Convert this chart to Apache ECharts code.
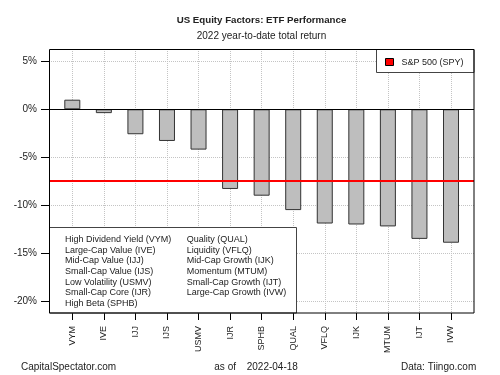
<!DOCTYPE html>
<html>
<head>
<meta charset="utf-8">
<script src="https://cdn.jsdelivr.net/npm/echarts@6/dist/echarts.min.js"></script>
<style>
  html, body { margin: 0; padding: 0; background: #fff; }
  #chart { width: 500px; height: 375px; }
</style>
</head>
<body>
<div id="chart"></div>
<script>
// tickers on the x axis, read left to right
var tickers = ['VYM', 'IVE', 'IJJ', 'IJS', 'USMV', 'IJR', 'SPHB', 'QUAL', 'VFLQ', 'IJK', 'MTUM', 'IJT', 'IVW']
// 2022 ytd total return, %
var returns = [1.0, -0.4, -2.6, -3.3, -4.2, -8.3, -9.0, -10.5, -11.9, -12.0, -12.2, -13.5, -13.9]
var spyReturn = -7.44
var spyName = 'S&P 500 (SPY)'
var yTicks = [-20, -15, -10, -5, 0, 5]

var legendLeft = ['High Dividend Yield (VYM)', 'Large-Cap Value (IVE)', 'Mid-Cap Value (IJJ)', 'Small-Cap Value (IJS)', 'Low Volatility (USMV)', 'Small-Cap Core (IJR)', 'High Beta (SPHB)']
var legendRight = ['Quality (QUAL)', 'Liquidity (VFLQ)', 'Mid-Cap Growth (IJK)', 'Momentum (MTUM)', 'Small-Cap Growth (IJT)', 'Large-Cap Growth (IVW)']

var font = 'Liberation Sans, Arial, sans-serif'
var gridColor = '#c4c4c4'

var chart = echarts.init(document.getElementById('chart'), null, { renderer: 'canvas' })

var graphics = []
// plot frame
graphics.push({
  type: 'rect', z: 50, silent: true,
  shape: { x: 49.5, y: 49.5, width: 424.5, height: 263.5 },
  style: { fill: 'none', stroke: '#000', lineWidth: 1 }
})
// factor legend box, bottom-left
graphics.push({
  type: 'rect', z: 40, silent: true,
  shape: { x: 49.5, y: 227.5, width: 247, height: 85.5 },
  style: { fill: '#fff', stroke: '#444', lineWidth: 1 }
})
legendLeft.forEach(function (t, i) {
  graphics.push({ type: 'text', z: 41, silent: true, x: 65, y: 239.5 + i * 10.7,
    style: { text: t, font: '9px ' + font, fill: '#222', textVerticalAlign: 'middle' } })
})
legendRight.forEach(function (t, i) {
  graphics.push({ type: 'text', z: 41, silent: true, x: 186.7, y: 239.5 + i * 10.7,
    style: { text: t, font: '9px ' + font, fill: '#222', textVerticalAlign: 'middle' } })
})
// spy legend box, top-right
graphics.push({
  type: 'rect', z: 40, silent: true,
  shape: { x: 376.5, y: 49.5, width: 97.5, height: 23 },
  style: { fill: '#fff', stroke: '#444', lineWidth: 1 }
})
graphics.push({
  type: 'rect', z: 41, silent: true,
  shape: { x: 385.5, y: 58.5, width: 8, height: 7 },
  style: { fill: '#ff0000', stroke: '#000', lineWidth: 1 }
})
graphics.push({ type: 'text', z: 41, silent: true, x: 401.5, y: 62.5,
  style: { text: spyName, font: '9px ' + font, fill: '#222', textVerticalAlign: 'middle' } })
// footer
graphics.push({ type: 'text', silent: true, x: 21, y: 367,
  style: { text: 'CapitalSpectator.com', font: '10px ' + font, fill: '#222', textVerticalAlign: 'middle' } })
graphics.push({ type: 'text', silent: true, x: 214.3, y: 367,
  style: { text: 'as of', font: '10px ' + font, fill: '#222', textVerticalAlign: 'middle' } })
graphics.push({ type: 'text', silent: true, x: 246.7, y: 367,
  style: { text: '2022-04-18', font: '10px ' + font, fill: '#222', textVerticalAlign: 'middle' } })
graphics.push({ type: 'text', silent: true, x: 401, y: 367,
  style: { text: 'Data: Tiingo.com', font: '10px ' + font, fill: '#222', textVerticalAlign: 'middle' } })
// titles
graphics.push({ type: 'text', silent: true, x: 261.5, y: 20,
  style: { text: 'US Equity Factors: ETF Performance', font: 'bold 9.7px ' + font, fill: '#222', textAlign: 'center', textVerticalAlign: 'middle' } })
graphics.push({ type: 'text', silent: true, x: 261.5, y: 36.7,
  style: { text: '2022 year-to-date total return', font: '10px ' + font, fill: '#222', textAlign: 'center', textVerticalAlign: 'middle' } })

chart.setOption({
  animation: false,
  backgroundColor: '#fff',
  textStyle: { fontFamily: font },
  grid: [
    // y ticks, horizontal grid lines, reference lines
    { left: 49, right: 26, top: 61.7, bottom: 73.3 },
    // bars, x ticks, vertical grid lines
    { left: 72.3, right: 49, top: 49, bottom: 62 }
  ],
  xAxis: [
    { gridIndex: 0, type: 'value', min: 0, max: 1, show: false },
    {
      gridIndex: 1,
      type: 'category',
      data: tickers,
      boundaryGap: false,
      position: 'bottom',
      axisLine: { show: false, onZero: false },
      axisTick: { show: true, length: 7, interval: 0, lineStyle: { color: '#000' } },
      axisLabel: { interval: 0, rotate: 90, margin: 13, fontSize: 9, color: '#222', fontFamily: font },
      splitLine: { show: true, interval: 0, lineStyle: { color: gridColor, type: 'dotted' } }
    }
  ],
  yAxis: [
    {
      gridIndex: 0,
      type: 'value',
      min: yTicks[0],
      max: yTicks[yTicks.length - 1],
      interval: 5,
      axisLine: { show: false },
      axisTick: { show: true, length: 8, lineStyle: { color: '#000' } },
      axisLabel: { margin: 12, fontSize: 10, color: '#222', fontFamily: font, formatter: '{value}%' },
      splitLine: { show: true, lineStyle: { color: gridColor, type: 'dotted' } }
    },
    { gridIndex: 1, type: 'value', min: -21.22, max: 6.28, show: false }
  ],
  graphic: graphics,
  series: [
    {
      name: 'returns',
      type: 'bar',
      xAxisIndex: 1,
      yAxisIndex: 1,
      data: returns,
      barWidth: 16,
      clip: false,
      itemStyle: { color: '#bebebe', borderColor: '#333', borderWidth: 1 }
    },
    {
      name: spyName,
      type: 'line',
      xAxisIndex: 0,
      yAxisIndex: 0,
      data: [],
      z: 10,
      markLine: {
        silent: true,
        symbol: 'none',
        label: { show: false },
        data: [
          { yAxis: 0, lineStyle: { color: '#000', width: 1, type: 'solid' } },
          { yAxis: spyReturn, lineStyle: { color: '#ff0000', width: 2, type: 'solid' } }
        ]
      }
    }
  ]
})
</script>
</body>
</html>
